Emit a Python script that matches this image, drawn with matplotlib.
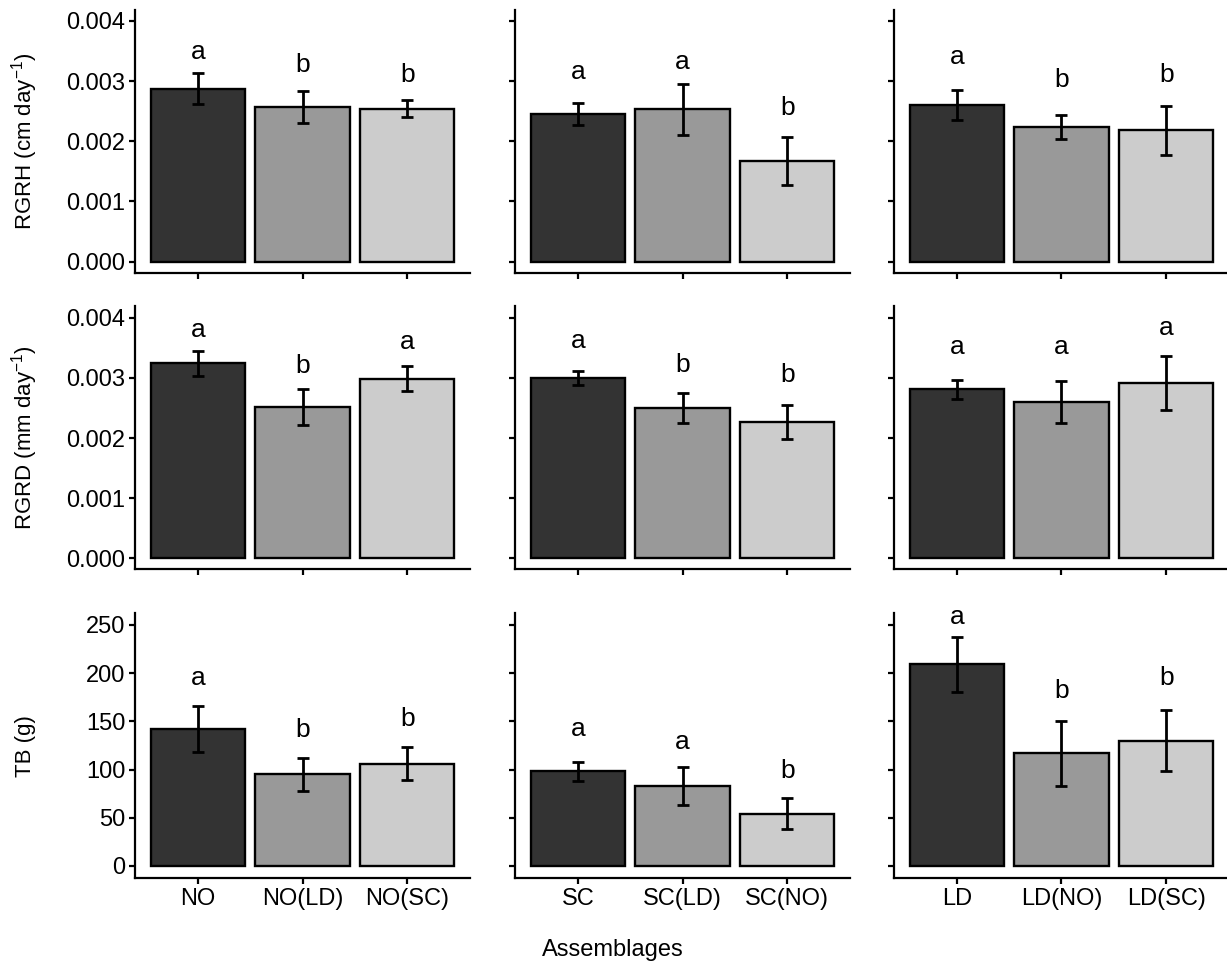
import matplotlib
matplotlib.use("Agg")
import matplotlib.pyplot as plt
from matplotlib.ticker import FormatStrFormatter

plt.rcParams['font.family'] = ['Liberation Sans', 'DejaVu Sans']
plt.rcParams['mathtext.default'] = 'regular'

# one list per assemblage column (NO, SC, LD)
groups = [["NO", "NO(LD)", "NO(SC)"],
          ["SC", "SC(LD)", "SC(NO)"],
          ["LD", "LD(NO)", "LD(SC)"]]

rgrh_mean = [[0.00287, 0.00257, 0.00254], [0.00245, 0.00253, 0.00167], [0.00260, 0.00223, 0.00218]]
rgrh_se = [[0.00026, 0.00026, 0.00014], [0.00018, 0.00042, 0.00040], [0.00025, 0.00020, 0.00041]]
rgrh_letters = [["a", "b", "b"], ["a", "a", "b"], ["a", "b", "b"]]
rgrh_letter_y = [[0.00349, 0.00327, 0.00310], [0.00315, 0.00332, 0.00255], [0.00340, 0.00302, 0.00310]]

rgrd_mean = [[0.00324, 0.00252, 0.00299], [0.00300, 0.00250, 0.00227], [0.00281, 0.00260, 0.00291]]
rgrd_se = [[0.00020, 0.00030, 0.00021], [0.00012, 0.00025, 0.00028], [0.00016, 0.00035, 0.00045]]
rgrd_letters = [["a", "b", "a"], ["a", "b", "b"], ["a", "a", "a"]]
rgrd_letter_y = [[0.00380, 0.00320, 0.00359], [0.00361, 0.00322, 0.00305], [0.00352, 0.00352, 0.00383]]

tb_mean = [[142, 95, 106], [98, 83, 54], [209, 117, 130]]
tb_se = [[23.6, 17.5, 17], [10, 20, 16], [29, 33.7, 32]]
tb_letters = [["a", "b", "b"], ["a", "a", "b"], ["a", "b", "b"]]
tb_letter_y = [[195, 141, 152], [142, 129, 98.5], [258, 182, 195]]

row_labels = ["RGRH (cm day$^{-1}$)", "RGRD (mm day$^{-1}$)", "TB (g)"]
row_ticks = [[0, 0.001, 0.002, 0.003, 0.004], [0, 0.001, 0.002, 0.003, 0.004], [0, 50, 100, 150, 200, 250]]
row_lims = [(-0.00019, 0.00418), (-0.00018, 0.00420), (-12.8, 262.4)]
row_fmt = ['%.3f', '%.3f', '%d']

rows = [(rgrh_mean, rgrh_se, rgrh_letters, rgrh_letter_y),
        (rgrd_mean, rgrd_se, rgrd_letters, rgrd_letter_y),
        (tb_mean, tb_se, tb_letters, tb_letter_y)]

fills = ["#333333", "#999999", "#cccccc"]

W, H = 1227, 966
fig = plt.figure(figsize=(W / 100, H / 100), dpi=100)

col_x = [135, 515, 894]
col_w = 335
row_y = [(10, 273), (305.7, 569.3), (613, 878.3)]

for r, (means, ses, letters, ly) in enumerate(rows):
    top, bot = row_y[r]
    for c in range(3):
        ax = fig.add_axes([col_x[c] / W, (H - bot) / H, col_w / W, (bot - top) / H])
        x = range(1, 4)
        ax.bar(x, means[c], width=0.9, color=fills, edgecolor="black", linewidth=1.7)
        ax.errorbar(x, means[c], yerr=ses[c], fmt="none", ecolor="black",
                    elinewidth=2, capsize=4, capthick=2)
        for i in range(3):
            ax.text(i + 1, ly[c][i], letters[c][i], ha="center", va="center", fontsize=19)
        ax.set_xlim(0.4, 3.6)
        ax.set_ylim(*row_lims[r])
        ax.set_yticks(row_ticks[r])
        ax.yaxis.set_major_formatter(FormatStrFormatter(row_fmt[r]))
        ax.set_xticks(list(x))
        for s in ["top", "right"]:
            ax.spines[s].set_visible(False)
        for s in ["left", "bottom"]:
            ax.spines[s].set_linewidth(1.6)
        ax.tick_params(width=1.6, length=4, labelsize=17, colors="black", pad=3)
        if r == 2:
            ax.set_xticklabels(groups[c])
        else:
            ax.set_xticklabels([])
        if c != 0:
            ax.set_yticklabels([])
    fig.text(25 / W, 1 - (top + bot) / 2 / H, row_labels[r], rotation=90,
             ha="center", va="center", fontsize=16)

fig.text(613 / W, 1 - 950 / H, "Assemblages", ha="center", va="center", fontsize=17)

fig.savefig("out.png", dpi=100)
